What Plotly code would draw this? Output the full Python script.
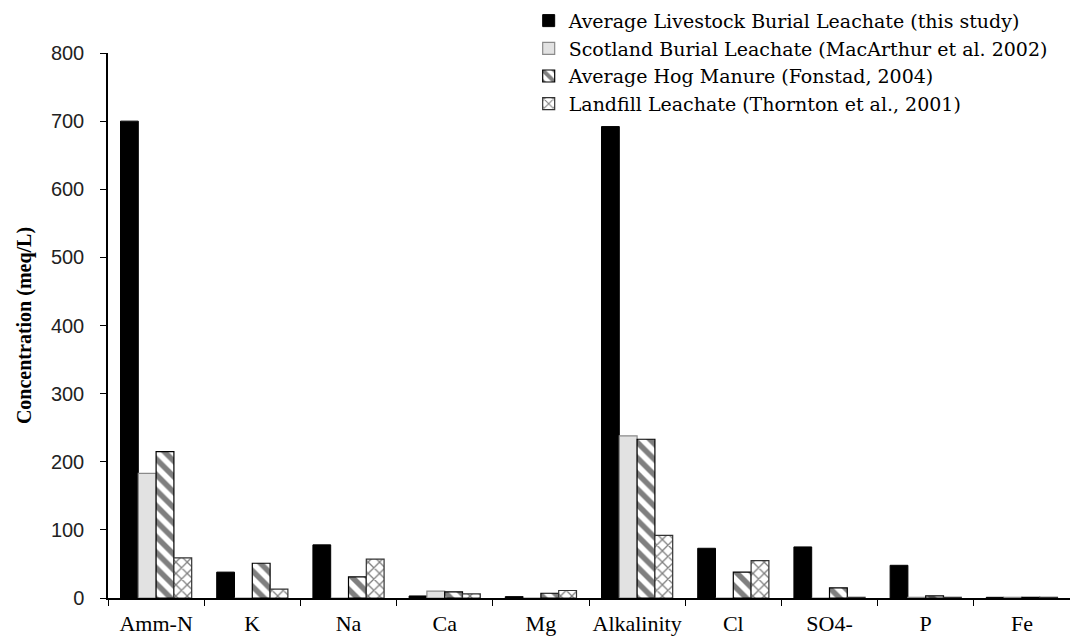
import plotly.graph_objects as go

categories = ["Amm-N", "K", "Na", "Ca", "Mg", "Alkalinity", "Cl", "SO4-", "P", "Fe"]
livestock = [700, 38, 78, 3, 2, 692, 73, 75, 48, 1]
scotland = [183, 0, 0, 10, 0, 238, 0, 0, 1, 1]
hog = [215, 51, 31, 9, 7, 233, 38, 15, 3, 1]
landfill = [59, 13, 57, 6, 11, 92, 55, 1, 1, 1]

names = [
    "Average Livestock Burial Leachate (this study)",
    "Scotland Burial Leachate (MacArthur et al. 2002)",
    "Average Hog Manure (Fonstad, 2004)",
    "Landfill Leachate (Thornton et al., 2001)",
]

fig = go.Figure()
fig.add_trace(go.Bar(x=categories, y=livestock, name=names[0],
                     marker=dict(color="black", line=dict(color="black", width=1))))
fig.add_trace(go.Bar(x=categories, y=scotland, name=names[1],
                     marker=dict(color="#e2e2e2", line=dict(color="#8a8a8a", width=1.2))))
fig.add_trace(go.Bar(x=categories, y=hog, name=names[2],
                     marker=dict(color="white", line=dict(color="black", width=1.2),
                                 pattern=dict(shape="\\", fgcolor="black", bgcolor="white",
                                              size=11, solidity=0.5))))
fig.add_trace(go.Bar(x=categories, y=landfill, name=names[3],
                     marker=dict(color="white", line=dict(color="#333333", width=1.2),
                                 pattern=dict(shape="x", fgcolor="black", bgcolor="white",
                                              size=8, solidity=0.3))))

fig.update_layout(
    width=1070, height=639,
    margin=dict(l=108, r=0, t=53, b=41, autoexpand=False),
    plot_bgcolor="white", paper_bgcolor="white",
    barmode="group", bargap=0.26, bargroupgap=0,
    font=dict(family="Liberation Serif", color="black"),
    legend=dict(x=0.982, xanchor="right", y=1.094, yanchor="top",
                font=dict(family="DejaVu Serif", size=19, color="black"),
                bgcolor="rgba(0,0,0,0)", tracegroupgap=0, itemwidth=30,
                traceorder="normal"),
    showlegend=True,
)
fig.update_xaxes(
    showline=True, linecolor="black", linewidth=1.5,
    ticks="outside", tickson="boundaries", ticklen=6, tickcolor="black",
    tickangle=0, automargin=False, ticklabelstandoff=5,
    tickfont=dict(family="Liberation Serif", size=22, color="black"),
    showgrid=False,
)
fig.update_yaxes(
    range=[0, 800], dtick=100, automargin=False,
    showline=True, linecolor="black", linewidth=1.5,
    ticks="outside", ticklen=6, tickcolor="black",
    ticklabelstandoff=12,
    tickfont=dict(family="Liberation Sans", size=20, color="#222222"),
    showgrid=False, zeroline=False,
    title=dict(text="<b>Concentration (meq/L)</b>",
               font=dict(family="Liberation Serif", size=20, color="black"), standoff=14),
)

fig.write_html("out.html")
